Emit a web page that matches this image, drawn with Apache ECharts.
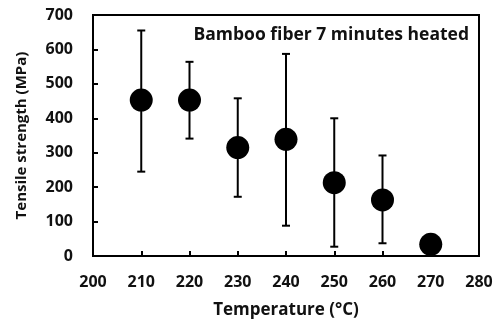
<!DOCTYPE html>
<html>
<head>
<meta charset="utf-8">
<script src="https://cdn.jsdelivr.net/npm/echarts@6/dist/echarts.min.js"></script>
<style>
  html, body { margin: 0; padding: 0; background: #fff; }
  #chart { width: 496px; height: 329px; }
</style>
</head>
<body>
<div id="chart"></div>
<script>
const temperatures = [210, 220, 230, 240, 250, 260, 270]
const strength = [453, 453, 315, 339, 213, 163, 34]
const errLow = [245, 341, 172, 88, 27, 37, 34]
const errHigh = [655, 564, 458, 587, 400, 292, 34]

const font = '"Open Sans", sans-serif'
const chart = echarts.init(document.getElementById('chart'))

const points = temperatures.map((t, i) => [t, strength[i]])
const bars = temperatures.map((t, i) => [t, errLow[i], errHigh[i]])

chart.setOption({
  animation: false,
  grid: {
    left: 93, right: 17, top: 15, bottom: 73,
    show: true, borderColor: '#000', borderWidth: 2
  },
  xAxis: {
    type: 'value',
    min: 200, max: 280, interval: 10,
    name: 'Temperature (°C)',
    nameLocation: 'middle',
    nameGap: 46,
    nameTextStyle: { fontFamily: font, fontWeight: 'bold', fontSize: 17, color: '#111' },
    axisLine: { lineStyle: { color: '#000', width: 2 } },
    axisTick: { inside: true, length: 5, lineStyle: { color: '#000', width: 2 } },
    axisLabel: { margin: 18, fontFamily: font, fontWeight: 'bold', fontSize: 16, color: '#111' },
    splitLine: { show: false }
  },
  yAxis: {
    type: 'value',
    min: 0, max: 700, interval: 100,
    name: 'Tensile strength (MPa)',
    nameLocation: 'middle',
    nameGap: 64,
    nameTextStyle: { fontFamily: font, fontWeight: 'bold', fontSize: 15, color: '#111' },
    axisLine: { show: true, lineStyle: { color: '#000', width: 2 } },
    axisTick: { show: true, inside: true, length: 5, lineStyle: { color: '#000', width: 2 } },
    axisLabel: { margin: 20, fontFamily: font, fontWeight: 'bold', fontSize: 16, color: '#111' },
    splitLine: { show: false }
  },
  graphic: [{
    type: 'text',
    right: 27, top: 26,
    style: { text: 'Bamboo fiber 7 minutes heated', fontFamily: font, fontWeight: 'bold', fontSize: 17.5, fill: '#111' }
  }],
  series: [
    {
      type: 'custom',
      data: bars,
      z: 2,
      renderItem(params, api) {
        const x = api.value(0)
        const lo = api.coord([x, api.value(1)])
        const hi = api.coord([x, api.value(2)])
        const cap = 4
        const style = { stroke: '#000', lineWidth: 2 }
        return {
          type: 'group',
          children: [
            { type: 'line', shape: { x1: lo[0], y1: lo[1], x2: hi[0], y2: hi[1] }, style },
            { type: 'line', shape: { x1: lo[0] - cap, y1: lo[1], x2: lo[0] + cap, y2: lo[1] }, style },
            { type: 'line', shape: { x1: hi[0] - cap, y1: hi[1], x2: hi[0] + cap, y2: hi[1] }, style }
          ]
        }
      }
    },
    {
      type: 'scatter',
      data: points,
      symbol: 'circle',
      symbolSize: 23,
      z: 3,
      itemStyle: { color: '#000', opacity: 1 }
    }
  ]
})
</script>
</body>
</html>
